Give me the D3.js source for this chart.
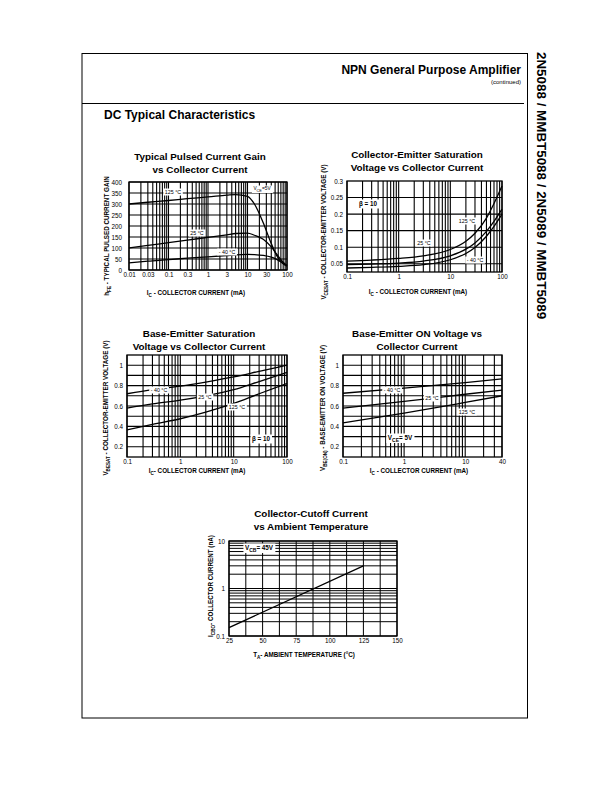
<!DOCTYPE html>
<html><head><meta charset="utf-8">
<script src="https://cdn.jsdelivr.net/npm/d3@7"></script>
<style>
body{margin:0;background:#fff;}
svg{display:block;font-family:"Liberation Sans",Arial,Helvetica,sans-serif;}
</style></head><body>
<svg id="page" width="612" height="792"></svg>
<script>
// ---------------- DATA ----------------
// Chart 1: Typical Pulsed Current Gain vs Collector Current
const hfeIc   = [0.01, 0.03, 0.1, 0.3, 1, 3, 5, 10, 15, 25, 40, 55, 80, 100];
const hfe125  = [300, 308, 316, 324, 332, 340, 343, 335, 300, 215, 120, 65, 28, 18];
const hfe25   = [100, 112, 124, 136, 148, 160, 166, 168, 158, 140, 105, 72, 35, 20];
const hfeM40  = [32, 40, 47, 54, 60, 66, 69, 71, 70, 66, 58, 48, 30, 20];
const hfeXTicks = [0.01, 0.03, 0.1, 0.3, 1, 3, 10, 30, 100];
const hfeYTicks = [0, 50, 100, 150, 200, 250, 300, 350, 400];

// Chart 2: Collector-Emitter Saturation Voltage vs Collector Current
const vceIc   = [0.1, 0.3, 1, 3, 10, 20, 30, 50, 70, 100];
const vce125  = [0.058, 0.061, 0.066, 0.074, 0.093, 0.118, 0.142, 0.188, 0.232, 0.285];
const vce25   = [0.047, 0.049, 0.052, 0.058, 0.074, 0.094, 0.113, 0.148, 0.178, 0.215];
const vceM40  = [0.037, 0.039, 0.042, 0.047, 0.062, 0.081, 0.099, 0.133, 0.163, 0.200];
const vceXTicks = [0.1, 1, 10, 100];
const vceYTicks = [0.05, 0.1, 0.15, 0.2, 0.25, 0.3];

// Chart 3: Base-Emitter Saturation Voltage vs Collector Current
const vbesIc  = [0.1, 0.3, 1, 3, 10, 30, 100];
const vbesM40 = [0.72, 0.76, 0.795, 0.835, 0.885, 0.94, 1.0];
const vbes25  = [0.58, 0.62, 0.657, 0.70, 0.76, 0.84, 0.93];
const vbes125 = [0.365, 0.42, 0.475, 0.54, 0.625, 0.72, 0.82];
const vbesXTicks = [0.1, 1, 10, 100];
const vbesYTicks = [0.2, 0.4, 0.6, 0.8, 1];

// Chart 4: Base-Emitter ON Voltage vs Collector Current
const vbeonIc  = [0.1, 1, 10, 40];
const vbeonM40 = [0.725, 0.775, 0.83, 0.865];
const vbeon25  = [0.58, 0.645, 0.715, 0.755];
const vbeon125 = [0.435, 0.53, 0.635, 0.70];
const vbeonXTicks = [0.1, 1, 10, 40];
const vbeonYTicks = [0.2, 0.4, 0.6, 0.8, 1];

// Chart 5: Collector-Cutoff Current vs Ambient Temperature
const icboTa  = [25, 125];
const icbo    = [0.15, 3.0];
const icboXTicks = [25, 50, 75, 100, 125, 150];
const icboYTicks = [0.1, 1, 10];

// ---------------- DRAWING ----------------
const svg = d3.select("#page");
const INK = "#000";

// page frame
svg.append("rect").attr("x",82).attr("y",53.5).attr("width",445.5).attr("height",664.5)
  .attr("fill","none").attr("stroke",INK).attr("stroke-width",1);
svg.append("line").attr("x1",82).attr("x2",524).attr("y1",103.5).attr("y2",103.5)
  .attr("stroke",INK).attr("stroke-width",1);
svg.append("text").attr("x",521).attr("y",74).attr("text-anchor","end")
  .attr("font-size",12).attr("font-weight","bold").text("NPN General Purpose Amplifier");
svg.append("text").attr("x",521).attr("y",84).attr("text-anchor","end")
  .attr("font-size",6).text("(continued)");
svg.append("text").attr("x",104).attr("y",119).attr("font-size",12).attr("font-weight","bold")
  .text("DC Typical Characteristics");
svg.append("text").attr("transform","translate(537,52) rotate(90)")
  .attr("font-size",13.4).attr("font-weight","bold")
  .text("2N5088 / MMBT5088 / 2N5089 / MMBT5089");

function logGrid(lo, hi){
  const v=[];
  for(let e=Math.floor(Math.log10(lo)); e<=Math.ceil(Math.log10(hi)); e++){
    for(let k=1;k<10;k++){ const x=k*Math.pow(10,e); if(x>=lo*0.999 && x<=hi*1.001) v.push(x); }
  }
  return v;
}

function chart(cfg){
  const g = svg.append("g");
  const {L,R,T,B} = cfg.box;
  const x = cfg.xlog ? d3.scaleLog().domain(cfg.xd).range([L,R]) : d3.scaleLinear().domain(cfg.xd).range([L,R]);
  const y = cfg.ylog ? d3.scaleLog().domain(cfg.yd).range([B,T]) : d3.scaleLinear().domain(cfg.yd).range([B,T]);
  // grid
  const xg = cfg.xgrid, yg = cfg.ygrid;
  g.append("g").selectAll("line").data(xg).join("line")
    .attr("x1",d=>x(d)).attr("x2",d=>x(d)).attr("y1",T).attr("y2",B)
    .attr("stroke",INK).attr("stroke-width",cfg.gw||1.1);
  g.append("g").selectAll("line").data(yg).join("line")
    .attr("y1",d=>y(d)).attr("y2",d=>y(d)).attr("x1",L).attr("x2",R)
    .attr("stroke",INK).attr("stroke-width",cfg.gw||1.1);
  g.append("rect").attr("x",L).attr("y",T).attr("width",R-L).attr("height",B-T)
    .attr("fill","none").attr("stroke",INK).attr("stroke-width",1.3);
  // axes (tick labels)
  const xa = d3.axisBottom(x).tickValues(cfg.xticks).tickSize(0).tickPadding(3)
    .tickFormat(cfg.xfmt || (d=>String(d)));
  const gx = g.append("g").attr("transform",`translate(0,${B})`).call(xa);
  gx.select(".domain").remove();
  gx.selectAll("text").attr("font-size",6.3).attr("fill",INK).attr("font-family",null);
  const ya = d3.axisLeft(y).tickValues(cfg.yticks).tickSize(0).tickPadding(cfg.ypad||4)
    .tickFormat(cfg.yfmt || (d=>String(d)));
  const gy = g.append("g").attr("transform",`translate(${L},0)`).call(ya);
  gy.select(".domain").remove();
  gy.selectAll("text").attr("font-size",6.3).attr("fill",INK).attr("font-family",null);
  // curves
  const line = d3.line().x(d=>x(d[0])).y(d=>y(d[1])).curve(d3.curveMonotoneX);
  cfg.series.forEach(s=>{
    g.append("path").datum(cfg.xs.map((v,i)=>[v,s[i]]))
      .attr("d",line).attr("fill","none").attr("stroke",INK).attr("stroke-width",1.3);
  });
  // inline labels
  (cfg.labels||[]).forEach(lb=>{
    const t = g.append("text").attr("x",lb.x).attr("y",lb.y).attr("font-size",lb.fs||5.3)
      .attr("text-anchor","middle").attr("font-weight",lb.bold?"bold":null);
    lb.parts.forEach(p=>{
      const ts=t.append("tspan").text(p.t);
      if(p.sub){ ts.attr("font-size",(lb.fs||5.3)*0.8).attr("dy",1.5); }
      else if(p.back){ ts.attr("dy",-1.5); }
    });
    const bb = t.node().getBBox();
    g.insert("rect", ()=>t.node()).attr("x",bb.x-1.5).attr("y",bb.y-0.5)
      .attr("width",bb.width+3).attr("height",bb.height+1).attr("fill","#fff");
  });
  // titles
  cfg.title.forEach((tl,i)=>{
    g.append("text").attr("x",cfg.tx).attr("y",cfg.ty+i*13).attr("text-anchor","middle")
      .attr("font-size",9.9).attr("font-weight","bold").text(tl);
  });
  // x title
  const xt = g.append("text").attr("x",cfg.xtx).attr("y",cfg.xty).attr("text-anchor","middle")
    .attr("font-size",6.3).attr("font-weight","bold");
  cfg.xtitle.forEach(p=>{
    const ts=xt.append("tspan").text(p.t);
    if(p.sub) ts.attr("font-size",4.6).attr("dy",1.5);
    else if(p.back) ts.attr("dy",-1.5);
  });
  const yt = g.append("text").attr("transform",`translate(${cfg.ytx},${cfg.yty}) rotate(-90)`)
    .attr("text-anchor","middle").attr("font-size",6.3).attr("font-weight","bold");
  cfg.ytitle.forEach(p=>{
    const ts=yt.append("tspan").text(p.t);
    if(p.sub) ts.attr("font-size",4.6).attr("dy",1.5);
    else if(p.back) ts.attr("dy",-1.5);
  });
}

// Chart 1
chart({
  box:{L:129,R:287,T:182,B:270}, xlog:true, xd:[0.01,100], yd:[0,400], ypad:7,
  xgrid:logGrid(0.01,100), ygrid:hfeYTicks, xticks:hfeXTicks, yticks:hfeYTicks,
  xs:hfeIc, series:[hfe125,hfe25,hfeM40],
  labels:[
    {x:173,y:194,parts:[{t:"125 °C"}]},
    {x:197,y:235,parts:[{t:"25 °C"}]},
    {x:227,y:254,parts:[{t:"- 40 °C"}]},
    {x:262,y:190,fs:4.8,parts:[{t:"V"},{t:"CE",sub:true},{t:"=5V",back:true}]}
  ],
  title:["Typical Pulsed Current Gain","vs Collector Current"], tx:200, ty:160,
  xtitle:[{t:"I"},{t:"C",sub:true},{t:" - COLLECTOR CURRENT  (mA)",back:true}], xtx:196, xty:295,
  ytitle:[{t:"h"},{t:"FE",sub:true},{t:" - TYPICAL PULSED CURRENT GAIN",back:true}], ytx:109, yty:236
});

// Chart 2
chart({
  box:{L:347,R:502,T:181,B:272}, xlog:true, xd:[0.1,100], yd:[0.025,0.3],
  xgrid:logGrid(0.1,100), ygrid:[0.05,0.1,0.15,0.2,0.25], xticks:vceXTicks, yticks:vceYTicks,
  xs:vceIc, series:[vce125,vce25,vceM40],
  labels:[
    {x:368,y:206,fs:6.3,bold:true,parts:[{t:"β  = 10"}]},
    {x:467,y:223,parts:[{t:"125 °C"}]},
    {x:424,y:245,parts:[{t:"25 °C"}]},
    {x:475,y:262,parts:[{t:"- 40 °C"}]}
  ],
  title:["Collector-Emitter Saturation","Voltage vs Collector Current"], tx:417, ty:158,
  xtitle:[{t:"I"},{t:"C",sub:true},{t:" - COLLECTOR CURRENT  (mA)",back:true}], xtx:418, xty:294,
  ytitle:[{t:"V"},{t:"CESAT",sub:true},{t:" - COLLECTOR-EMITTER VOLTAGE (V)",back:true}], ytx:326, yty:232
});

// Chart 3
chart({
  box:{L:127,R:287,T:355,B:457}, xlog:true, xd:[0.1,100], yd:[0.1,1.1],
  xgrid:logGrid(0.1,100), ygrid:d3.range(2,11).map(d=>d/10), xticks:vbesXTicks, yticks:vbesYTicks,
  xs:vbesIc, series:[vbesM40,vbes25,vbes125],
  labels:[
    {x:159,y:392,parts:[{t:"- 40 °C"}]},
    {x:205,y:399,parts:[{t:"25 °C"}]},
    {x:237,y:409,parts:[{t:"125 °C"}]},
    {x:261,y:441,fs:6.3,bold:true,parts:[{t:"β  = 10"}]}
  ],
  title:["Base-Emitter Saturation","Voltage vs Collector Current"], tx:199, ty:337,
  xtitle:[{t:"I"},{t:"C",sub:true},{t:"- COLLECTOR CURRENT  (mA)",back:true}], xtx:197, xty:473,
  ytitle:[{t:"V"},{t:"BESAT",sub:true},{t:" - COLLECTOR-EMITTER VOLTAGE (V)",back:true}], ytx:108, yty:408
});

// Chart 4
chart({
  box:{L:343,R:502,T:355,B:457}, xlog:true, xd:[0.1,40], yd:[0.1,1.1],
  xgrid:logGrid(0.1,40), ygrid:d3.range(2,11).map(d=>d/10), xticks:vbeonXTicks, yticks:vbeonYTicks,
  xs:vbeonIc, series:[vbeonM40,vbeon25,vbeon125],
  labels:[
    {x:392,y:392,parts:[{t:"- 40 °C"}]},
    {x:432,y:400,parts:[{t:"25 °C"}]},
    {x:467,y:414,parts:[{t:"125 °C"}]},
    {x:400,y:440,fs:6.3,bold:true,parts:[{t:"V"},{t:"CE",sub:true},{t:"= 5V",back:true}]}
  ],
  title:["Base-Emitter ON Voltage vs","Collector Current"], tx:417, ty:337,
  xtitle:[{t:"I"},{t:"C",sub:true},{t:" - COLLECTOR CURRENT  (mA)",back:true}], xtx:419, xty:473,
  ytitle:[{t:"V"},{t:"BE(ON)",sub:true},{t:" - BASE-EMITTER ON VOLTAGE (V)",back:true}], ytx:325, yty:408
});

// Chart 5
chart({
  box:{L:229,R:397,T:541,B:636}, xlog:false, xd:[25,150], ylog:true, yd:[0.1,10],
  xgrid:d3.range(25,151,12.5), ygrid:logGrid(0.1,10), xticks:icboXTicks, yticks:icboYTicks, gw:1,
  xs:icboTa, series:[icbo],
  labels:[
    {x:259,y:550,fs:6.3,bold:true,parts:[{t:"V"},{t:"CB",sub:true},{t:"= 45V",back:true}]}
  ],
  title:["Collector-Cutoff Current","vs Ambient Temperature"], tx:311, ty:517,
  xtitle:[{t:"T"},{t:"A",sub:true},{t:"- AMBIENT TEMPERATURE (°C)",back:true}], xtx:304, xty:657,
  ytitle:[{t:"I"},{t:"CBO",sub:true},{t:"- COLLECTOR CURRENT (nA)",back:true}], ytx:213, yty:586
});
</script>
</body></html>
